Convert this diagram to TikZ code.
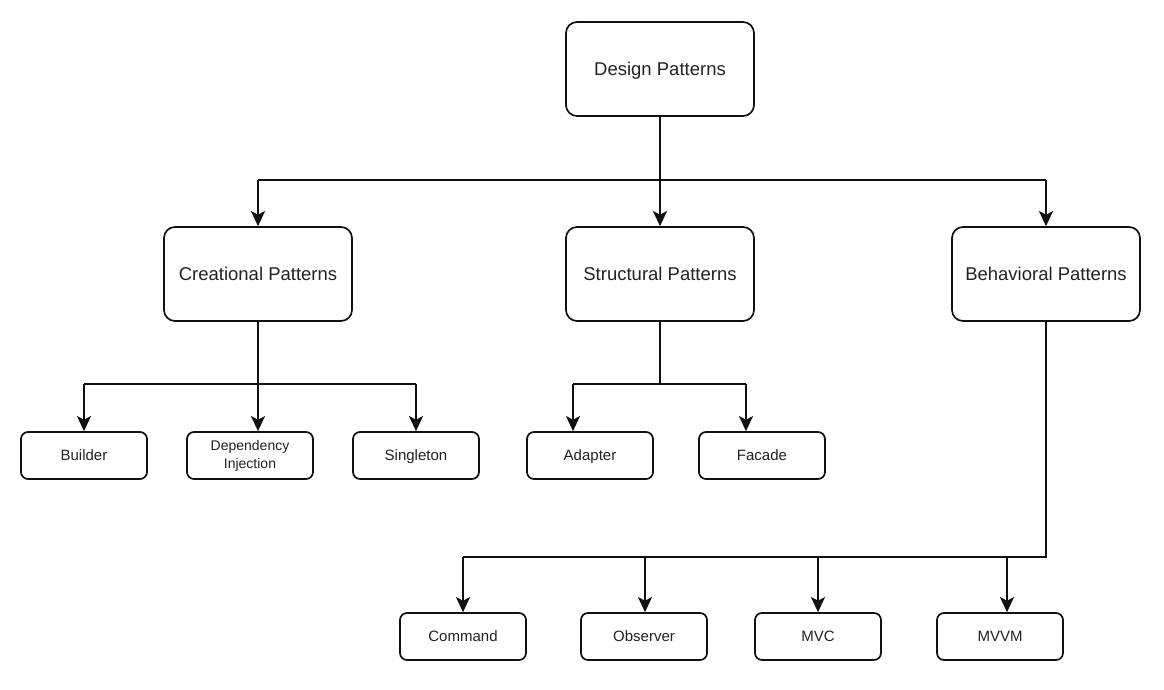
\documentclass[tikz,border=0pt]{standalone}
\usepackage{fontspec}
\setmainfont{Liberation Sans}
\usetikzlibrary{arrows.meta,calc}
\definecolor{txt}{HTML}{222222}
\definecolor{ln}{HTML}{111111}
\tikzset{
  bigbox/.style={draw=ln,line width=1.7pt,rounded corners=11pt,minimum width=188pt,minimum height=94pt,inner sep=0pt,align=center,text=txt,text depth=0pt,font=\fontsize{18.5}{22}\selectfont},
  smallbox/.style={draw=ln,line width=1.7pt,rounded corners=7pt,minimum width=126pt,minimum height=47pt,inner sep=0pt,align=center,text=txt,font=\fontsize{15}{18}\selectfont},
  conn/.style={draw=ln,line width=1.7pt},
  arr/.style={conn,-{Stealth[length=15pt,width=14pt,inset=3.5pt]}},
}
\begin{document}
\begin{tikzpicture}[x=1pt,y=-1pt]
\useasboundingbox[fill=white] (0,0) rectangle (1164,690);
% main boxes
\node[bigbox] (dp) at (660,69) {Design Patterns};
\node[bigbox] (cp) at (258,274) {Creational Patterns};
\node[bigbox] (sp) at (660,274) {Structural Patterns};
\node[bigbox] (bp) at (1046,274) {Behavioral Patterns};
% small boxes
\node[smallbox,text depth=0pt] (builder) at (84,455.5) {Builder};
\node[smallbox,font=\fontsize{14}{18}\selectfont] (di) at (250,455.5) {Dependency\\Injection};
\node[smallbox,text depth=0pt] (single) at (416,455.5) {Singleton};
\node[smallbox,text depth=0pt] (adapter) at (590,455.5) {Adapter};
\node[smallbox,text depth=0pt] (facade) at (762,455.5) {Facade};
\node[smallbox,text depth=0pt] (command) at (463,636.5) {Command};
\node[smallbox,text depth=0pt] (observer) at (644,636.5) {Observer};
\node[smallbox,text depth=0pt] (mvc) at (818,636.5) {MVC};
\node[smallbox,text depth=0pt] (mvvm) at (1000,636.5) {MVVM};
% junction coordinates
\coordinate (j1) at (660,180);
\coordinate (j2) at (258,384);
\coordinate (j3) at (660,384);
\coordinate (j4) at (1046,557);
\coordinate (a1) at (84,384);
\coordinate (a2) at (416,384);
\coordinate (a3) at (573,384);
\coordinate (a4) at (746,384);
\coordinate (b1) at (463,557);
\coordinate (b2) at (645,557);
\coordinate (b3) at (818,557);
\coordinate (b4) at (1007,557);
% level 1
\draw[conn] (dp.south) -- (j1);
\draw[conn] (j1 -| cp.north) -- (j1 -| bp.north);
\draw[arr] (j1 -| cp.north) -- (cp.north);
\draw[arr] (j1) -- (sp.north);
\draw[arr] (j1 -| bp.north) -- (bp.north);
% creational
\draw[conn] (cp.south) -- (j2);
\draw[conn] (a1) -- (a2);
\draw[arr] (a1) -- (builder.north);
\draw[arr] (j2) -- (j2 |- di.north);
\draw[arr] (a2) -- (single.north);
% structural
\draw[conn] (sp.south) -- (j3);
\draw[conn] (a3) -- (a4);
\draw[arr] (a3) -- (a3 |- adapter.north);
\draw[arr] (a4) -- (a4 |- facade.north);
% behavioral
\draw[conn] (bp.south) -- (j4) -- (b1);
\draw[arr] (b1) -- (command.north);
\draw[arr] (b2) -- (b2 |- observer.north);
\draw[arr] (b3) -- (mvc.north);
\draw[arr] (b4) -- (b4 |- mvvm.north);
\end{tikzpicture}
\end{document}
